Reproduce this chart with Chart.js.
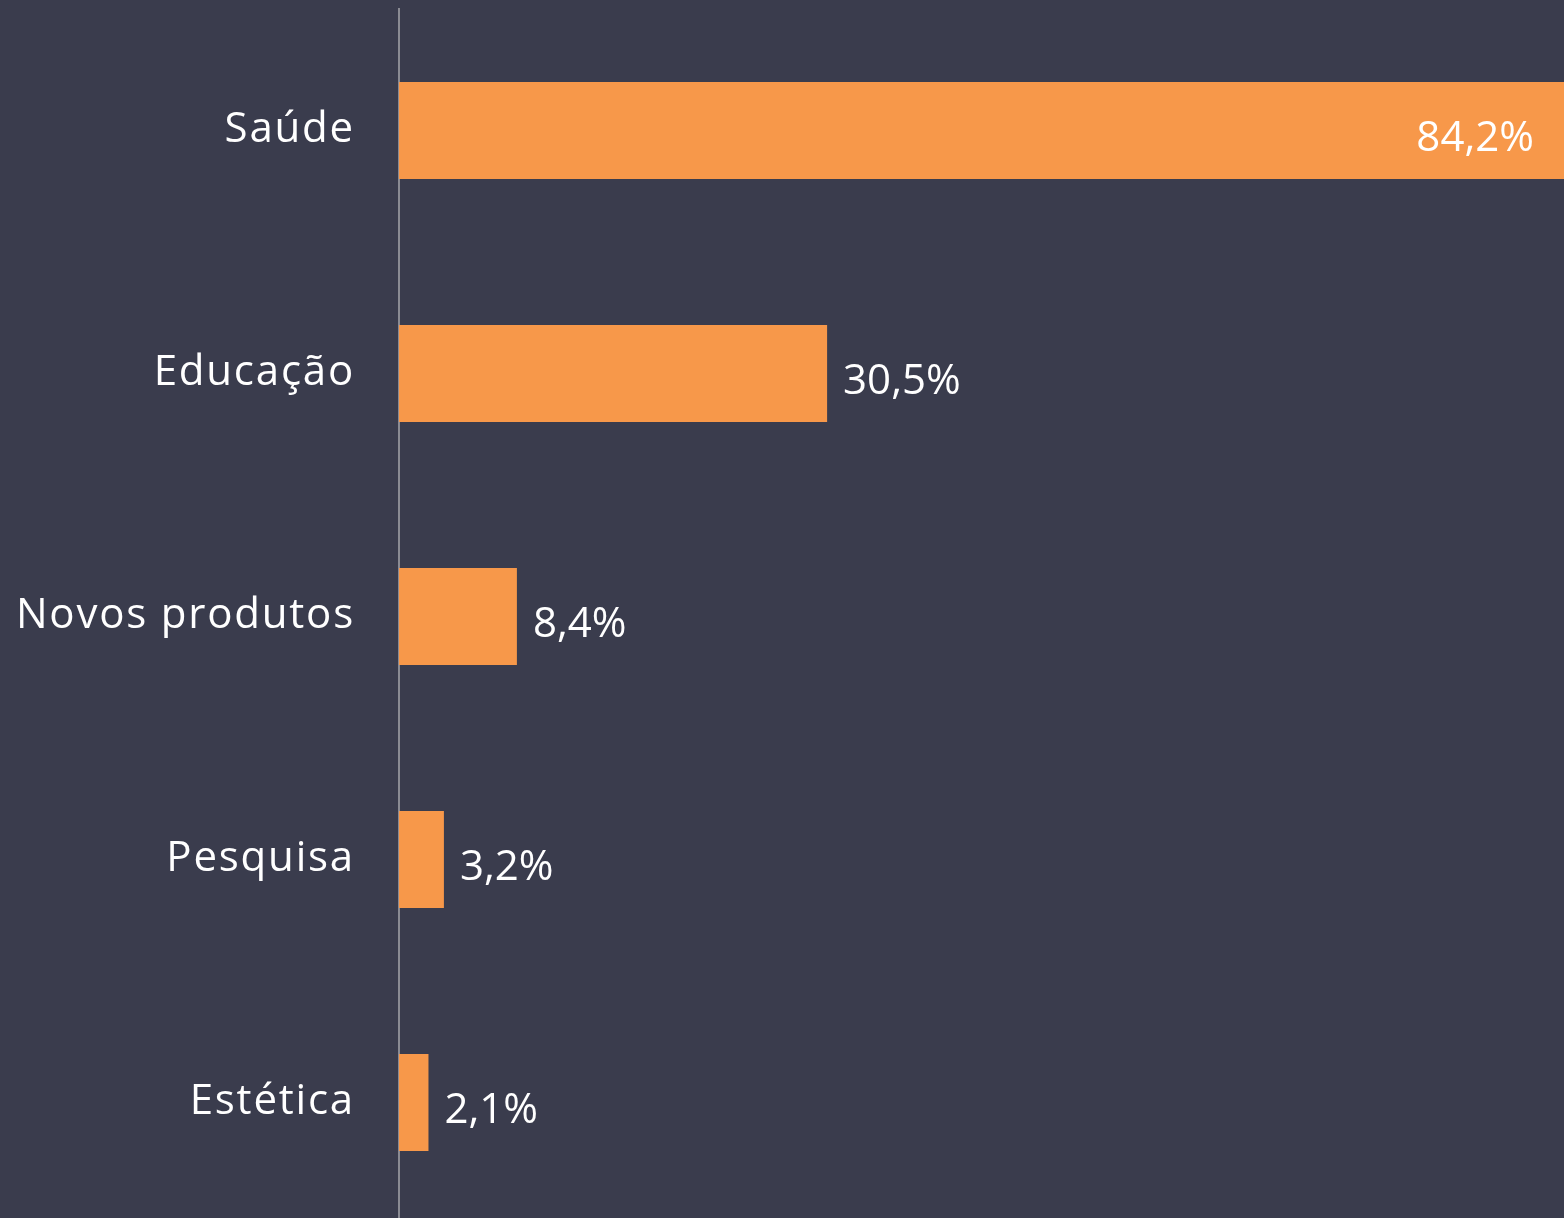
<!DOCTYPE html>
<html>
<head>
<meta charset="utf-8">
<script src="https://cdn.jsdelivr.net/npm/chart.js@4/dist/chart.umd.min.js"></script>
<style>
  html, body { margin: 0; padding: 0; background: #3a3c4d; overflow: hidden; }
  #wrap { width: 1564px; height: 1224px; }
</style>
</head>
<body>
<div id="wrap"><canvas id="chart" width="1564" height="1224"></canvas></div>
<script>
  const categorias = ['Saúde', 'Educação', 'Novos produtos', 'Pesquisa', 'Estética'];
  const valores = [84.2, 30.5, 8.4, 3.2, 2.1];
  const etiquetas = ['84,2%', '30,5%', '8,4%', '3,2%', '2,1%'];
  const xMax = 83;

  const fuente = '"Open Sans", sans-serif';

  // espaciado entre letras para los nombres de categoria
  const espaciado = {
    id: 'espaciado',
    beforeDraw(chart) { chart.ctx.letterSpacing = '1.8px'; },
    afterDraw(chart) { chart.ctx.letterSpacing = '0px'; }
  };

  // etiquetas de valor: dentro de la barra si sale del area, si no a la derecha
  const valorLabels = {
    id: 'valorLabels',
    afterDatasetsDraw(chart) {
      const { ctx, chartArea } = chart;
      const meta = chart.getDatasetMeta(0);
      ctx.save();
      ctx.letterSpacing = '0px';
      ctx.font = '42px ' + fuente;
      ctx.fillStyle = '#ffffff';
      ctx.textBaseline = 'alphabetic';
      meta.data.forEach((bar, i) => {
        const y = bar.y + 20;
        if (valores[i] > xMax) {
          ctx.textAlign = 'right';
          ctx.fillText(etiquetas[i], chartArea.right - 30, y);
        } else {
          ctx.textAlign = 'left';
          ctx.fillText(etiquetas[i], bar.x + 16, y);
        }
      });
      ctx.restore();
    }
  };

  new Chart(document.getElementById('chart'), {
    type: 'bar',
    data: {
      labels: categorias,
      datasets: [{
        data: valores,
        backgroundColor: '#f7984a',
        borderWidth: 0,
        categoryPercentage: 1,
        barPercentage: 0.4
      }]
    },
    options: {
      indexAxis: 'y',
      responsive: false,
      animation: false,
      layout: { padding: { top: 9, left: 0, right: 0, bottom: 0 } },
      plugins: { legend: { display: false }, tooltip: { enabled: false } },
      scales: {
        x: { display: false, min: 0, max: xMax },
        y: {
          afterFit(scale) {
            scale.width = 399;
            scale.paddingTop = 0;
            scale.paddingBottom = 0;
          },
          grid: { display: false, drawTicks: false },
          border: { display: true, color: '#8a8b93', width: 2 },
          ticks: {
            color: '#ffffff',
            padding: 44,
            font: { family: fuente, size: 42 }
          }
        }
      }
    },
    plugins: [espaciado, valorLabels]
  });
</script>
</body>
</html>
